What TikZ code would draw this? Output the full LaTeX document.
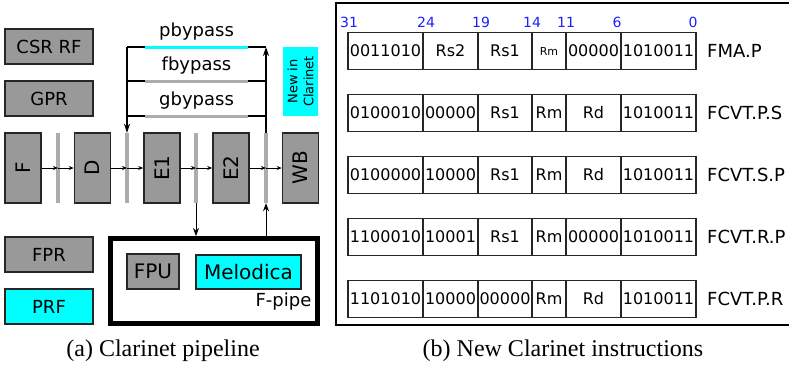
\documentclass[tikz,border=0pt]{standalone}
\usepackage{fontspec}
\setmainfont{DejaVu Sans}
\newfontfamily\capfont{Liberation Serif}
\usetikzlibrary{arrows.meta,positioning}

\definecolor{boxgray}{RGB}{153,153,153}
\definecolor{latchgray}{RGB}{172,172,172}
\definecolor{newcyan}{RGB}{0,255,255}
\definecolor{bitblue}{RGB}{30,30,255}

\tikzset{
  regbox/.style={draw=black!85,line width=1.5pt,fill=boxgray,minimum width=88pt,minimum height=35pt,inner sep=0pt,font=\fontsize{18}{20}\selectfont},
  stagebox/.style={draw=black!85,line width=1.5pt,fill=boxgray,minimum width=36pt,minimum height=70pt,inner sep=0pt},
  stagelabel/.style={rotate=90,font=\fontsize{20}{22}\selectfont},
  latch/.style={fill=latchgray,minimum width=3.3pt,minimum height=70pt,inner sep=0pt},
  seg/.style={minimum width=103pt,minimum height=3pt,inner sep=0pt},
  bylabel/.style={font=\fontsize{18}{20}\selectfont,inner sep=0pt},
  field/.style={draw=black!85,line width=1.2pt,minimum height=37pt,inner sep=0pt,font=\fontsize{16}{18}\selectfont},
  instr/.style={anchor=west,inner sep=2pt,font=\fontsize{18}{20}\selectfont},
  bitno/.style={text=bitblue,inner sep=0pt,font=\fontsize{14}{16}\selectfont},
  caption/.style={font=\capfont\fontsize{24}{26}\selectfont},
  pipe/.style={-{Stealth[length=5pt,width=4pt]},line width=0.9pt},
  bypass/.style={-{Stealth[length=9pt,width=6pt]},line width=1.5pt}
}

\begin{document}
\begin{tikzpicture}[x=1pt,y=-1pt]
  \useasboundingbox (0,0) rectangle (789,370);

  % register files
  \node[regbox] (csr) at (49,46.5) {CSR RF};
  \node[regbox] (gpr) at (49,98.5) {GPR};
  \node[regbox] (fpr) at (49,254.5) {FPR};
  \node[regbox,fill=newcyan] (prf) at (49,306.5) {PRF};

  % stages and latches
  \node[stagebox] (F)  at (23,168)    {};
  \node[stagebox] (D)  at (92.5,168)  {};
  \node[stagebox] (E1) at (162,168)   {};
  \node[stagebox] (E2) at (231,168)   {};
  \node[stagebox] (WB) at (300.5,168) {};
  \foreach \s/\t in {F/F,D/D,E1/E1,E2/E2,WB/WB}
    \node[stagelabel] at (\s) {\t};
  \node[latch] (bar1) at (58,168) {};
  \node[latch] (bar2) at (127,168) {};
  \node[latch] (bar3) at (196,168) {};
  \node[latch] (bar4) at (266,168) {};

  \draw[pipe] (F.east) -- (bar1.center);
  \draw[pipe] (bar1.center) -- (D.west);
  \draw[pipe] (D.east) -- (bar2.center);
  \draw[pipe] (bar2.center) -- (E1.west);
  \draw[pipe] (E1.east) -- (bar3.center);
  \draw[pipe] (bar3.center) -- (E2.west);
  \draw[pipe] (E2.east) -- (bar4.center);
  \draw[pipe] (bar4.center) -- (WB.west);

  % bypass paths
  \coordinate (pl) at (127,47);  \coordinate (pr) at (266,47);
  \coordinate (fl) at (127,81);  \coordinate (fr) at (266,81);
  \coordinate (gl) at (127,116); \coordinate (gr) at (266,116);
  \draw[line width=1.5pt] (pl) -- (pr);
  \draw[line width=1.5pt] (fl) -- (fr);
  \draw[line width=1.5pt] (gl) -- (gr);
  \draw[bypass] (pl) -- (bar2.north);
  \draw[bypass] (bar4.north) -- (pr);
  \node[seg,fill=newcyan] (pseg) at (196.5,47) {};
  \node[seg,fill=latchgray] (fseg) at (196.5,81) {};
  \node[seg,fill=latchgray] (gseg) at (196.5,116) {};
  \node[bylabel,above=5pt of pseg] (pb) {pbypass};
  \node[bylabel,above=5pt of fseg] (fb) {fbypass};
  \node[bylabel,above=5pt of gseg] (gb) {gbypass};

  \node[fill=newcyan,minimum width=35pt,minimum height=69pt,inner sep=0pt] (newin) at (300.5,81.5) {};
  \node[rotate=90,align=center,font=\fontsize{13}{16}\selectfont] at (newin) {New in\\Clarinet};

  % F-pipe
  \node[draw,line width=5pt,minimum width=207pt,minimum height=85pt,inner sep=0pt] (fpipe) at (214,281) {};
  \node[regbox,minimum width=52pt,font=\fontsize{20}{22}\selectfont] (fpu) at (153,271.5) {FPU};
  \node[regbox,fill=newcyan,minimum width=105pt,minimum height=34pt,font=\fontsize{20}{22}\selectfont] (melodica) at (248.5,272) {Melodica};
  \node[font=\fontsize{18}{20}\selectfont] (fpl) at (283.5,302) {F-pipe};
  \draw[pipe,-{Stealth[length=8pt,width=6pt]}] (bar3.south) -- (bar3.south |- fpipe.north);
  \draw[pipe,-{Stealth[length=8pt,width=6pt]}] (bar4.south |- fpipe.north) -- (bar4.south);

  \node[caption] (capa) at (163,351) {(a) Clarinet pipeline};

  % instruction formats
  \draw[line width=2pt] (336,3) rectangle (800,325);
  \foreach \b/\x in {31/349,24/426,19/481,14/532,11/566,6/617,0/693}
    \node[bitno] (bit\b) at (\x,22) {\b};
  \foreach \r/\yy/\name/\fields in {
      1/51/FMA.P/{0011010,Rs2,Rs1,\fontsize{11}{13}\selectfont Rm,00000,1010011},
      2/113/FCVT.P.S/{0100010,00000,Rs1,Rm,Rd,1010011},
      3/175/FCVT.S.P/{0100000,10000,Rs1,Rm,Rd,1010011},
      4/237/FCVT.R.P/{1100010,10001,Rs1,Rm,00000,1010011},
      5/299/FCVT.P.R/{1101010,10000,00000,Rm,Rd,1010011}}
  {
    \foreach \t [count=\c] in \fields {
      \pgfmathsetmacro\xa{{348,423,478,532,566,621}[\c-1]}
      \pgfmathsetmacro\xb{{423,478,532,566,621,696}[\c-1]}
      \pgfmathsetmacro\w{\xb-\xa}
      \node[field,minimum width=\w pt] (r\r c\c) at ({(\xa+\xb)/2},\yy) {\t};
    }
    \node[instr] (n\r) at (705,\yy) {\name};
  }

  \node[caption] (capb) at (563,351) {(b) New Clarinet instructions};
\end{tikzpicture}
\end{document}
